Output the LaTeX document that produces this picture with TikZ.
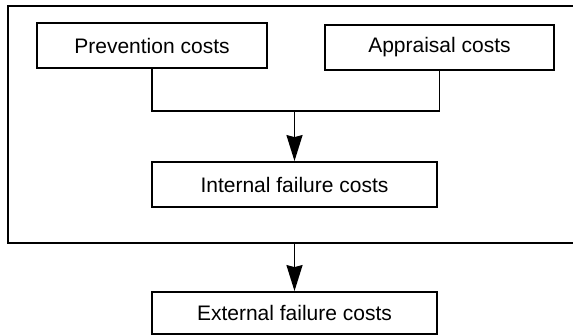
\documentclass[tikz,border=0pt]{standalone}
\usepackage{fontspec}
\setmainfont{Liberation Sans}
\usetikzlibrary{arrows.meta}

\begin{document}
\begin{tikzpicture}[x=1pt,y=-1pt,
  costbox/.style={draw,line width=1.8pt,minimum height=45pt,inner sep=0pt,
    font=\fontsize{21}{25}\selectfont},
  flow/.style={line width=1.8pt},
  arr/.style={flow,-{Stealth[length=26pt,width=16pt,inset=2pt]}}]
  \useasboundingbox (0,0) rectangle (573,336);
  % outer frame, open at the right edge
  \draw[line width=2pt] (576,6) -- (8,6) -- (8,243) -- (576,243);
  \coordinate (fb) at (294.5,243);
  % cost boxes
  \node[costbox,minimum width=230pt] (prev) at (152,45.5) {Prevention costs};
  \node[costbox,minimum width=229pt] (appr) at (439.5,47.5) {Appraisal costs};
  \node[costbox,minimum width=285pt] (intl) at (294.5,184.5) {Internal failure costs};
  \node[costbox,minimum width=285pt,minimum height=42pt] (extl) at (294.5,313) {External failure costs};
  % join of the two upper boxes
  \coordinate (join) at (294.5,111);
  \draw[flow] (prev.south) |- (join) -| (appr.south);
  \draw[arr] (join) -- (intl.north);
  % out of the frame
  \draw[arr] (fb) -- (extl.north);
\end{tikzpicture}
\end{document}
